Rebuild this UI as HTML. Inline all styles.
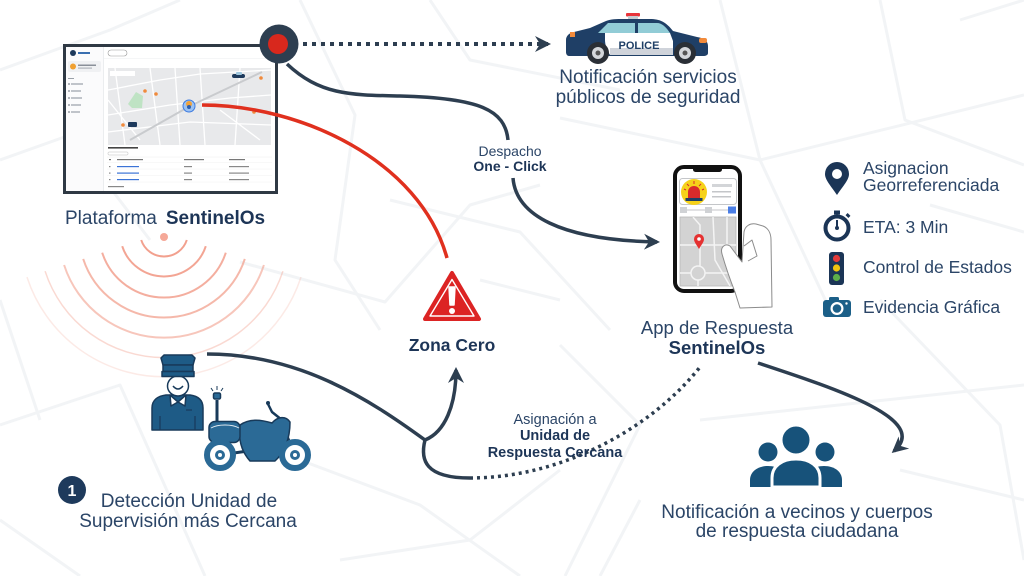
<!DOCTYPE html>
<html><head><meta charset="utf-8">
<style>
html,body{margin:0;padding:0;background:#fff;}
svg{display:block;}
text{font-family:"Liberation Sans",sans-serif;}
</style></head>
<body>
<svg width="1024" height="576" viewBox="0 0 1024 576" xmlns="http://www.w3.org/2000/svg">
<defs>
<marker id="ah" viewBox="0 0 16 16" refX="13" refY="8" markerWidth="16" markerHeight="16" markerUnits="userSpaceOnUse" orient="auto">
<path d="M0,0 L16,8 L0,16 L5,8 Z" fill="#2d3e50"/>
</marker>
<clipPath id="mapclip"><rect x="108" y="68" width="163" height="77"/></clipPath>
<clipPath id="pmap"><rect x="680" y="217" width="56" height="69"/></clipPath>
</defs>
<rect width="1024" height="576" fill="#fff"/>

<!-- background street lines -->
<g stroke="#f2f4f6" stroke-width="3" fill="none" stroke-linejoin="round">
<path d="M0,70 L110,30 L180,0"/>
<path d="M0,160 L70,135 L150,240"/>
<path d="M300,0 L355,115 L335,260 L380,330"/>
<path d="M390,200 L520,232 L610,330"/>
<path d="M560,118 L760,160 L1024,95"/>
<path d="M720,0 L760,160 L830,310"/>
<path d="M880,0 L905,120 L1024,165"/>
<path d="M930,205 L1024,232"/>
<path d="M560,345 L640,425 L565,576"/>
<path d="M700,420 L1024,385"/>
<path d="M880,300 L1000,425 L1024,560"/>
<path d="M0,425 L120,385 L205,576"/>
<path d="M300,460 L420,505 L520,576"/>
<path d="M0,300 L40,420"/>
<path d="M240,262 L385,302 L470,205 L540,185"/>
<path d="M430,0 L470,60 L620,90"/>
<path d="M960,20 L1024,0"/>
<path d="M340,560 L470,540 L560,470"/>
<path d="M640,500 L600,576"/>
<path d="M900,470 L1024,500"/>
<path d="M0,520 L80,576"/>
<path d="M480,280 L560,300"/>
</g>

<!-- signal arcs -->
<g fill="none" stroke="#f2a08e" stroke-width="2">
<circle cx="164" cy="237" r="4" fill="#f5a898" stroke="none"/>
<path d="M141.2,240 A24,24 0 0,0 186.8,240"/>
<path d="M122.2,246.2 A44,44 0 0,0 205.8,246.2" opacity=".95"/>
<path d="M102.2,252.7 A65,65 0 0,0 225.8,252.7" opacity=".85"/>
<path d="M83.2,258.9 A85,85 0 0,0 244.8,258.9" opacity=".75"/>
<path d="M64.1,265 A105,105 0 0,0 263.9,265" opacity=".6"/>
<path d="M45.1,271.2 A125,125 0 0,0 282.9,271.2" opacity=".4" stroke-width="1.5"/>
<path d="M27,277.1 A144,144 0 0,0 301,277.1" opacity=".22" stroke-width="1.5"/>
</g>

<!-- platform screenshot -->
<rect x="64.5" y="45.5" width="212" height="147" fill="#fff" stroke="#2f3944" stroke-width="3"/>
<rect x="66" y="47" width="37" height="144" fill="#fbfbfc"/>
<line x1="103.5" y1="47" x2="103.5" y2="191" stroke="#e3e5e8" stroke-width="0.7"/>
<circle cx="73" cy="53" r="3" fill="#1e3a5c"/>
<rect x="78" y="52" width="12" height="2" fill="#3a6fb0"/>
<rect x="68" y="61" width="33" height="11" rx="2" fill="#f0f1f3"/>
<circle cx="73" cy="66.5" r="3" fill="#f0a030"/>
<rect x="78" y="64.5" width="18" height="1.5" fill="#8a9099"/>
<rect x="78" y="67.5" width="14" height="1.2" fill="#b0b5bb"/>
<g fill="#9aa0a8">
<rect x="68" y="78" width="6" height="1"/>
<circle cx="69" cy="84" r="1"/><rect x="71" y="83.4" width="12" height="1.2"/>
<circle cx="69" cy="91" r="1"/><rect x="71" y="90.4" width="10" height="1.2"/>
<circle cx="69" cy="98" r="1"/><rect x="71" y="97.4" width="11" height="1.2"/>
<circle cx="69" cy="105" r="1"/><rect x="71" y="104.4" width="10" height="1.2"/>
<circle cx="69" cy="112" r="1"/><rect x="71" y="111.4" width="9" height="1.2"/>
</g>
<rect x="108" y="50" width="19" height="6" rx="3" fill="#fff" stroke="#999" stroke-width="0.6"/>
<line x1="104" y1="58.5" x2="275" y2="58.5" stroke="#eceef0" stroke-width="0.6"/>
<rect x="108" y="68" width="163" height="77" fill="#e8e9eb"/>
<g clip-path="url(#mapclip)">
<g stroke="#fff" stroke-width="1.3" fill="none">
<path d="M108,90 L160,80 L200,74 L271,70"/>
<path d="M108,115 L170,105 L230,98 L271,95"/>
<path d="M115,68 L125,145"/>
<path d="M150,68 L160,145"/>
<path d="M200,68 L205,145"/>
<path d="M240,68 L235,145"/>
<path d="M108,132 L190,122 L271,125"/>
<path d="M175,68 L180,145"/>
<path d="M220,110 L260,140"/>
<path d="M108,100 L140,140"/>
</g>
<path d="M130,140 L190,106 L262,72" stroke="#c9cbce" stroke-width="2" fill="none"/>
<polygon points="128,104 136,92 143,96 142,108 132,108" fill="#bfe3c4"/>
<g fill="#f08a3c">
<circle cx="145" cy="91" r="1.8"/><circle cx="156" cy="94" r="1.8"/><circle cx="261" cy="78" r="1.8"/>
<circle cx="254" cy="112" r="1.8"/><circle cx="123" cy="125" r="1.8"/>
</g>
<rect x="232" y="74" width="13" height="4" rx="2" fill="#1e3a5c"/>
<rect x="236" y="72" width="6" height="3" rx="1" fill="#9fc6dd"/>
<rect x="128" y="122" width="9" height="5" rx="1" fill="#1e3a5c"/>
<circle cx="189" cy="106" r="6" fill="#9cc2f2" stroke="#3d7be0" stroke-width="1"/>
<circle cx="189" cy="104" r="3" fill="#f2a33a"/>
<circle cx="189" cy="107" r="2" fill="#2d5fb0"/>
<rect x="110" y="71" width="25" height="5" fill="#fff"/>
</g>
<rect x="108" y="147" width="30" height="1.6" fill="#444"/>
<rect x="108" y="152" width="20" height="3" rx="1" fill="#fff" stroke="#bbb" stroke-width="0.5"/>
<line x1="107" y1="157" x2="272" y2="157" stroke="#eee" stroke-width="0.5"/>
<g fill="#777">
<rect x="109" y="159" width="2" height="1.2"/><rect x="117" y="159" width="26" height="1.2"/>
<rect x="184" y="159" width="20" height="1.2"/><rect x="229" y="159" width="16" height="1.2"/>
</g>
<g fill="#3b73d6">
<rect x="117" y="166" width="22" height="1.2"/><rect x="117" y="172.5" width="22" height="1.2"/><rect x="117" y="179" width="22" height="1.2"/>
</g>
<g fill="#888">
<rect x="109" y="166" width="1.5" height="1.2"/><rect x="109" y="172.5" width="1.5" height="1.2"/><rect x="109" y="179" width="1.5" height="1.2"/>
<rect x="184" y="166" width="8" height="1.2"/><rect x="184" y="172.5" width="8" height="1.2"/><rect x="184" y="179" width="8" height="1.2"/>
<rect x="229" y="166" width="20" height="1.2"/><rect x="229" y="172.5" width="20" height="1.2"/><rect x="229" y="179" width="20" height="1.2"/>
<rect x="108" y="186" width="16" height="1.2"/>
</g>
<g stroke="#f0f0f0" stroke-width="0.5">
<line x1="107" y1="162.5" x2="272" y2="162.5"/><line x1="107" y1="169" x2="272" y2="169"/><line x1="107" y1="175.5" x2="272" y2="175.5"/><line x1="107" y1="182" x2="272" y2="182"/>
</g>

<!-- connectors -->
<path d="M202,105 C300,105 420,160 447,258" fill="none" stroke="#e0301e" stroke-width="3.5"/>
<path d="M303,44 L548,44" fill="none" stroke="#2d3e50" stroke-width="4" stroke-dasharray="4 5" marker-end="url(#ah)"/>
<path d="M287,64 C320,95 350,95 400,96 C480,98 505,110 508,140" fill="none" stroke="#2d3e50" stroke-width="3.5"/>
<path d="M513,178 C516,215 560,240 657,242" fill="none" stroke="#2d3e50" stroke-width="3.5" marker-end="url(#ah)"/>
<path d="M207,354 C300,354 370,400 425,440" fill="none" stroke="#2d3e50" stroke-width="3.5"/>
<path d="M425,440 C445,432 456,405 456,370" fill="none" stroke="#2d3e50" stroke-width="3.5" marker-end="url(#ah)"/>
<path d="M425,440 C420,460 425,478 470,478" fill="none" stroke="#2d3e50" stroke-width="3.5"/>
<path d="M470,478 C560,478 650,430 700,367" fill="none" stroke="#2d3e50" stroke-width="3.5" stroke-dasharray="3 4"/>
<path d="M758,363 C840,390 930,420 894,451" fill="none" stroke="#2d3e50" stroke-width="3.5" marker-end="url(#ah)"/>

<!-- red dot node -->
<circle cx="279" cy="44" r="19.5" fill="#2d3e50"/>
<circle cx="278" cy="44" r="10" fill="#d8281d"/>

<!-- police car -->
<rect x="626" y="13" width="14" height="3.5" rx="1" fill="#e8353b"/>
<rect x="628" y="16" width="10" height="3" fill="#c7ccd2"/>
<path d="M566,52 L566,40 C566,36 569,33 574,32 L590,28 L606,21 C611,19 616,19 624,19 L650,19 C660,19 666,22 673,31 L697,37 C704,38 708,41 708,46 L708,53 C708,55 706,56 703,56 L569,56 C567,56 566,54 566,52 Z" fill="#1f3f66"/>
<path d="M598,33 L608,23 L635,23 L635,33 Z" fill="#92ccd6"/>
<path d="M638,23 L657,23 C662,23 666,27 670,33 L638,33 Z" fill="#92ccd6"/>
<path d="M605,33 L670,33 L673,41 L673,55 L610,55 C607,50 605,45 605,40 Z" fill="#fff"/>
<rect x="610" y="48" width="63" height="7" fill="#cfd3da"/>
<rect x="570" y="32" width="5" height="5" fill="#f28a3a"/>
<rect x="699" y="38" width="8" height="5" rx="2" fill="#f28a3a"/>
<text x="639" y="49" text-anchor="middle" font-size="11" font-weight="bold" fill="#1f3f66">POLICE</text>
<circle cx="598" cy="53" r="11" fill="#2a2f36"/><circle cx="598" cy="53" r="6" fill="#d4d7db"/><circle cx="598" cy="53" r="2.5" fill="#555"/>
<circle cx="685" cy="53" r="11" fill="#2a2f36"/><circle cx="685" cy="53" r="6" fill="#d4d7db"/><circle cx="685" cy="53" r="2.5" fill="#555"/>

<!-- warning triangle -->
<path d="M452,273 L479,319 L425,319 Z" fill="#dc2424" stroke="#dc2424" stroke-width="4" stroke-linejoin="round"/>
<path d="M452,279.5 L474,316 L430,316 Z" fill="none" stroke="#fff" stroke-width="1.4" stroke-linejoin="round"/>
<path d="M449,287 L455,287 L454,305 L450,305 Z" fill="#fff" stroke="#fff" stroke-width="1.5" stroke-linejoin="round"/>
<circle cx="452" cy="311" r="3" fill="#fff"/>

<!-- phone -->
<rect x="675" y="167" width="65" height="124" rx="9" fill="#fff" stroke="#111" stroke-width="4"/>
<rect x="693" y="166" width="29" height="6" rx="2.5" fill="#111"/>
<rect x="679.5" y="178.5" width="57" height="26" rx="3" fill="#fff" stroke="#c4c6c9" stroke-width="1"/>
<circle cx="694" cy="192" r="13" fill="#f6d21a"/>
<path d="M688,198 L688,192 C688,188 691,186 694,186 C697,186 700,188 700,192 L700,198 Z" fill="#d92b2b"/>
<rect x="685.5" y="198" width="17" height="3" fill="#1f3f66"/>
<g stroke="#d92b2b" stroke-width="1"><line x1="694" y1="181" x2="694" y2="184"/><line x1="687" y1="184" x2="689" y2="186"/><line x1="701" y1="184" x2="699" y2="186"/><line x1="684" y1="189" x2="686" y2="190"/><line x1="704" y1="189" x2="702" y2="190"/></g>
<rect x="712" y="184" width="20" height="3" fill="#d3d5d8"/>
<rect x="712" y="191" width="19" height="1.5" fill="#c4c6c9"/>
<rect x="712" y="196" width="19" height="1.5" fill="#c4c6c9"/>
<line x1="680" y1="210" x2="736" y2="210" stroke="#c4c6c9" stroke-width="1"/>
<rect x="680" y="207" width="7" height="6" fill="#d0d2d5"/>
<rect x="705" y="207" width="7" height="6" fill="#d0d2d5"/>
<rect x="728" y="206.5" width="8" height="7" fill="#4a7ee6"/>
<rect x="680" y="217" width="56" height="69" fill="#d3d3d3" stroke="#b8b8b8" stroke-width="0.8"/>
<g clip-path="url(#pmap)" stroke="#f4f4f4" stroke-width="1.5" fill="none">
<path d="M693,217 L700,225 L700,266"/>
<path d="M680,245 L736,245"/>
<path d="M713,217 L715,260 L730,286"/>
<path d="M727,217 L727,250"/>
<path d="M680,273 L691,273 M705,273 L736,273"/>
<path d="M698,280 L698,286"/>
<circle cx="698" cy="273" r="7"/>
</g>
<path d="M699,249 C696,244 694,242 694,239 A5,5 0 0,1 704,239 C704,242 702,244 699,249 Z" fill="#e53131"/>
<circle cx="699" cy="239" r="1.8" fill="#fff"/>
<!-- hand -->
<path d="M740,308 L735,292 C731,282 726,268 722,254 C720,247 725,243 730,246 L742,262 L744,232 C745,226 750,223 756,224 L763,226 C768,228 771,233 771,240 L772,307 Z" fill="#fff" stroke="#8c8c8c" stroke-width="1" stroke-linejoin="round"/>
<path d="M744,246 L752,240 L757,256 L748,261" fill="none" stroke="#8c8c8c" stroke-width="1" stroke-linejoin="round"/>

<!-- right list icons -->
<path d="M837,195 C831,186 825,180 825,174 A12,12 0 0,1 849,174 C849,180 843,186 837,195 Z" fill="#1b3556"/>
<circle cx="837" cy="174" r="5" fill="#fff"/>
<circle cx="837" cy="228" r="11.5" fill="#fff" stroke="#1b3556" stroke-width="4"/>
<rect x="834" y="210.5" width="6" height="4" fill="#1b3556"/>
<rect x="846" y="214" width="4" height="3" fill="#1b3556" transform="rotate(45 848 215.5)"/>
<line x1="837" y1="228" x2="837" y2="220" stroke="#1b3556" stroke-width="2"/>
<circle cx="837" cy="228" r="2" fill="#1b3556"/>
<rect x="829" y="252" width="15" height="33" rx="3" fill="#1b3556"/>
<circle cx="836.5" cy="258.5" r="3.6" fill="#e23b3b"/>
<circle cx="836.5" cy="268" r="3.6" fill="#f1c40f"/>
<circle cx="836.5" cy="277.5" r="3.6" fill="#5cae4a"/>
<rect x="829" y="297" width="10" height="5" rx="1.5" fill="#1b5f88"/>
<rect x="823" y="300" width="28" height="17" rx="3" fill="#1b5f88"/>
<circle cx="837" cy="308.5" r="6.5" fill="#fff"/>
<circle cx="837" cy="308.5" r="4.3" fill="#1b5f88"/>
<circle cx="846.5" cy="303.5" r="1.2" fill="#fff"/>

<!-- people icon -->
<path d="M750,487 L750,480 C750,472 757,466 768,466 C779,466 786,472 786,480 L786,487 Z" fill="#17527a"/>
<path d="M806,487 L806,480 C806,472 813,466 824,466 C835,466 842,472 842,480 L842,487 Z" fill="#17527a"/>
<circle cx="768" cy="452" r="9.5" fill="#17527a"/>
<circle cx="825" cy="452" r="9.5" fill="#17527a"/>
<path d="M772,487 L772,478 C772,466 782,459 796,459 C810,459 820,466 820,478 L820,487 Z" fill="#17527a" stroke="#fff" stroke-width="3"/>
<circle cx="796" cy="440" r="14.5" fill="#17527a" stroke="#fff" stroke-width="2"/>

<!-- officer -->
<g stroke="#183a5a" stroke-width="1.5" stroke-linejoin="round">
<path d="M152,430 L152,408 C152,400 158,396 166,395 L190,395 C198,396 203,400 203,408 L203,430 Z" fill="#1e5b86"/>
<path d="M170,395 L178,402 L171,406 Z" fill="#fff"/>
<path d="M186,395 L178,402 L185,406 Z" fill="#fff"/>
<ellipse cx="178" cy="386" rx="10.5" ry="10" fill="#fff"/>
<path d="M161,358 L164,355 L192,355 L195,358 L193,365 L163,365 Z" fill="#1e5b86"/>
<rect x="163" y="365" width="30" height="6.5" fill="#1e5b86"/>
<rect x="162" y="371.5" width="32" height="5" fill="#1e5b86"/>
</g>
<path d="M173,386 Q178,392 183,386" fill="none" stroke="#183a5a" stroke-width="1.5"/>
<line x1="160" y1="416" x2="160" y2="430" stroke="#183a5a" stroke-width="1.2"/>
<line x1="195" y1="416" x2="195" y2="430" stroke="#183a5a" stroke-width="1.2"/>
<line x1="186" y1="410" x2="192" y2="410" stroke="#183a5a" stroke-width="1.2"/>

<!-- motorcycle -->
<g stroke="#183a5a" stroke-width="1.5" stroke-linejoin="round">
<line x1="217" y1="400" x2="217" y2="424" stroke-width="3"/>
<rect x="213.5" y="393" width="7" height="6" rx="1.5" fill="#2b6a96"/>
<line x1="280" y1="420" x2="295" y2="455" stroke-width="3"/>
<path d="M268,404 L272,412 L282,420" fill="none" stroke-width="2.5"/>
<path d="M220,455 L255,450" fill="none" stroke-width="3"/>
<path d="M240,425 C250,418 262,420 272,423 C278,416 286,416 290,422 C290,438 285,452 275,461 L250,461 C242,452 238,440 240,425 Z" fill="#2b6a96"/>
<rect x="209" y="421.5" width="31" height="21" rx="6" fill="#2b6a96"/>
<path d="M211,428 C218,424 232,424 239,428" fill="none" stroke="#dfe8ef" stroke-width="1"/>
</g>
<circle cx="268" cy="403" r="2" fill="#183a5a"/>
<g stroke="#183a5a" stroke-width="1"><line x1="217" y1="386" x2="217" y2="390"/><line x1="211" y1="388" x2="213" y2="391"/><line x1="223" y1="388" x2="221" y2="391"/></g>
<circle cx="220" cy="455" r="13" fill="#fff" stroke="#2b6a96" stroke-width="6"/>
<circle cx="220" cy="455" r="5" fill="#2b6a96"/><circle cx="220" cy="455" r="2" fill="#fff"/>
<circle cx="295" cy="455" r="13" fill="#fff" stroke="#2b6a96" stroke-width="6"/>
<circle cx="295" cy="455" r="5" fill="#2b6a96"/><circle cx="295" cy="455" r="2" fill="#fff"/>

<!-- badge -->
<circle cx="72" cy="490" r="14" fill="#1e3a5c"/>
<text x="72" y="496" text-anchor="middle" font-size="16" font-weight="bold" fill="#fff">1</text>

<!-- texts -->
<g fill="#2b4567">
<text x="65" y="224" font-size="19">Plataforma<tspan font-weight="bold" dx="9" fill="#1d3557">SentinelOs</tspan></text>
<text x="648" y="83" text-anchor="middle" font-size="19">Notificación servicios</text>
<text x="648" y="103" text-anchor="middle" font-size="19">públicos de seguridad</text>
<text x="510" y="156" text-anchor="middle" font-size="14">Despacho</text>
<text x="510" y="171" text-anchor="middle" font-size="14" font-weight="bold" fill="#1d3557">One - Click</text>
<text x="452" y="351" text-anchor="middle" font-size="17.5" font-weight="bold" fill="#1d3557">Zona Cero</text>
<text x="717" y="334" text-anchor="middle" font-size="18.5">App de Respuesta</text>
<text x="717" y="354" text-anchor="middle" font-size="18.5" font-weight="bold" fill="#1d3557">SentinelOs</text>
<text x="863" y="174" font-size="17.5">Asignacion</text>
<text x="863" y="191" font-size="17.5">Georreferenciada</text>
<text x="863" y="233" font-size="17.5">ETA: 3 Min</text>
<text x="863" y="273" font-size="17.5">Control de Estados</text>
<text x="863" y="313" font-size="17.5">Evidencia Gráfica</text>
<text x="555" y="424" text-anchor="middle" font-size="14.5">Asignación a</text>
<text x="555" y="440" text-anchor="middle" font-size="14.5" font-weight="bold" fill="#1d3557">Unidad de</text>
<text x="555" y="457" text-anchor="middle" font-size="14.5" font-weight="bold" fill="#1d3557">Respuesta Cercana</text>
<text x="797" y="518" text-anchor="middle" font-size="19">Notificación a vecinos y cuerpos</text>
<text x="797" y="537" text-anchor="middle" font-size="19">de respuesta ciudadana</text>
<text x="189" y="507" text-anchor="middle" font-size="19">Detección Unidad de</text>
<text x="188" y="527" text-anchor="middle" font-size="19">Supervisión más Cercana</text>
</g>
</svg>
</body></html>
